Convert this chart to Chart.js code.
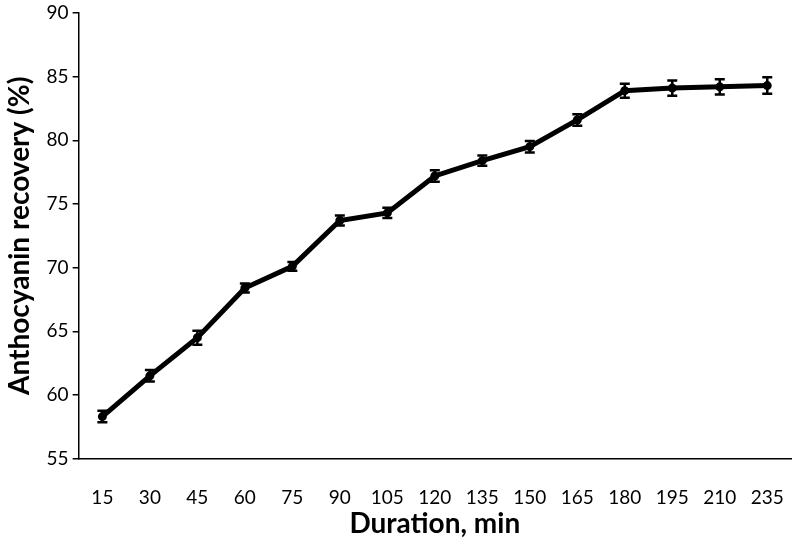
<!DOCTYPE html>
<html>
<head>
<meta charset="utf-8">
<script src="https://cdn.jsdelivr.net/npm/chart.js@4"></script>
<style>
  html, body { margin: 0; padding: 0; background: #fff; }
  #wrap { width: 793px; height: 546px; }
</style>
</head>
<body>
<div id="wrap"><canvas id="recoveryChart" width="793" height="546"></canvas></div>
<script>
// Duration (min) and anthocyanin recovery (%)
const durations = ['15', '30', '45', '60', '75', '90', '105', '120', '135', '150', '165', '180', '195', '210', '235'];
const recovery = [58.3, 61.5, 64.5, 68.4, 70.1, 73.7, 74.3, 77.2, 78.4, 79.5, 81.6, 83.9, 84.1, 84.2, 84.3];
const errors = [0.45, 0.45, 0.55, 0.35, 0.35, 0.4, 0.4, 0.45, 0.4, 0.45, 0.45, 0.55, 0.6, 0.6, 0.65];
const yTicks = [55, 60, 65, 70, 75, 80, 85, 90];

// draws the error bars with the chart's own scales
const errorBars = {
    id: 'errorBars',
    afterDatasetsDraw(chart) {
        const ctx = chart.ctx;
        const x = chart.scales.x, y = chart.scales.y;
        ctx.save();
        ctx.strokeStyle = '#000';
        ctx.lineWidth = 2.5;
        recovery.forEach((v, i) => {
            const px = x.getPixelForValue(i);
            const top = y.getPixelForValue(v + errors[i]);
            const bot = y.getPixelForValue(v - errors[i]);
            ctx.beginPath();
            ctx.moveTo(px, top); ctx.lineTo(px, bot);
            ctx.moveTo(px - 5, top); ctx.lineTo(px + 5, top);
            ctx.moveTo(px - 5, bot); ctx.lineTo(px + 5, bot);
            ctx.stroke();
        });
        ctx.restore();
    }
};

const recoveryChart = new Chart(document.getElementById('recoveryChart'), {
    type: 'line',
    data: {
        labels: durations,
        datasets: [{
            label: 'Anthocyanin recovery (%)',
            data: recovery,
            borderColor: '#000',
            backgroundColor: '#000',
            borderWidth: 5,
            pointRadius: 2,
            tension: 0
        }]
    },
    options: {
        responsive: false,
        animation: false,
        layout: { autoPadding: false, padding: { top: 13, right: 2, left: 3, bottom: 5 } },
        plugins: {
            legend: { display: false },
            tooltip: { enabled: false }
        },
        scales: {
            x: {
                offset: true,
                afterFit(axis) { axis.paddingLeft = 0; axis.paddingRight = 0; },
                // invisible tick marks keep the labels away from the axis
                grid: { display: true, drawOnChartArea: false, drawTicks: true, tickLength: 24, color: 'transparent' },
                border: { display: true, color: '#000', width: 1.5 },
                ticks: {
                    color: '#000',
                    font: { family: 'Lato', size: 19 },
                    padding: 4,
                    maxRotation: 0
                },
                title: {
                    display: true,
                    text: 'Duration, min',
                    color: '#000',
                    font: { family: 'Lato', size: 28, weight: 'bold' },
                    padding: { top: -6, bottom: 0 }
                }
            },
            y: {
                min: 55,
                max: 90,
                afterBuildTicks(axis) { axis.ticks = yTicks.map(v => ({ value: v })); },
                afterFit(axis) { axis.paddingTop = 0; axis.paddingBottom = 0; },
                grid: { drawOnChartArea: false, drawTicks: true, tickLength: 6, color: '#000', lineWidth: 1.5 },
                border: { display: true, color: '#000', width: 1.5 },
                ticks: {
                    color: '#000',
                    font: { family: 'Lato', size: 19 },
                    padding: 4
                },
                title: {
                    display: true,
                    text: 'Anthocyanin recovery (%)',
                    color: '#000',
                    font: { family: 'Lato', size: 28, weight: 'bold' },
                    padding: { top: 0, bottom: 6 }
                }
            }
        }
    },
    plugins: [errorBars]
});
</script>
</body>
</html>
